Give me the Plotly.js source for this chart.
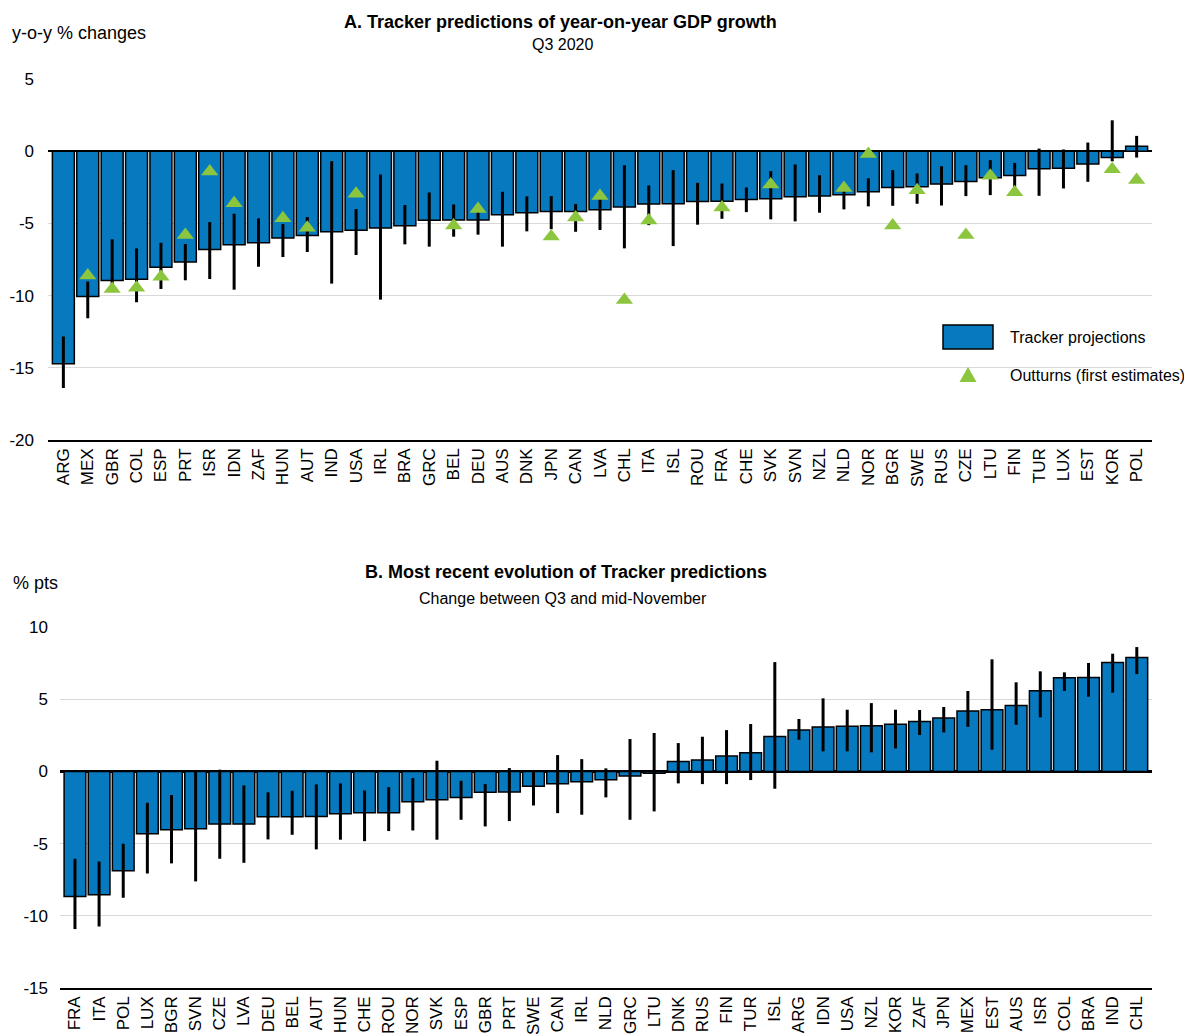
<!DOCTYPE html>
<html>
<head>
<meta charset="utf-8">
<script src="https://cdn.plot.ly/plotly-3.0.1.min.js"></script>
<style>html,body{margin:0;padding:0;background:#fff;}#chart{width:1184px;height:1035px;}</style>
</head>
<body>
<div id="chart"></div>
<script>
// Panel A: Tracker predictions of year-on-year GDP growth, Q3 2020
const countriesA = ["ARG","MEX","GBR","COL","ESP","PRT","ISR","IDN","ZAF","HUN","AUT","IND","USA","IRL","BRA","GRC","BEL","DEU","AUS","DNK","JPN","CAN","LVA","CHL","ITA","ISL","ROU","FRA","CHE","SVK","SVN","NZL","NLD","NOR","BGR","SWE","RUS","CZE","LTU","FIN","TUR","LUX","EST","KOR","POL"];
const trackerA = [-14.72,-10.07,-8.96,-8.87,-8.04,-7.67,-6.8,-6.47,-6.34,-6.01,-5.83,-5.58,-5.48,-5.32,-5.16,-4.79,-4.77,-4.77,-4.4,-4.26,-4.17,-4.17,-4.06,-3.87,-3.66,-3.64,-3.48,-3.46,-3.34,-3.29,-3.16,-3.11,-3.02,-2.81,-2.51,-2.47,-2.28,-2.10,-1.84,-1.68,-1.22,-1.18,-0.88,-0.44,0.35];
const lowA = [-16.4,-11.57,-9.4,-10.46,-9.54,-8.94,-8.85,-9.59,-8.0,-7.33,-6.98,-9.17,-7.19,-10.28,-6.45,-6.61,-5.92,-5.78,-6.61,-5.55,-5.4,-5.58,-5.46,-6.73,-5.12,-6.57,-5.09,-4.68,-4.22,-4.72,-4.86,-4.26,-4.03,-3.82,-3.78,-3.64,-3.76,-3.11,-3.04,-2.5,-3.09,-2.58,-2.12,-0.7,-0.44];
const highA = [-12.83,-9.03,-6.1,-6.73,-6.34,-6.43,-4.91,-4.33,-4.65,-5.05,-4.56,-0.69,-4.01,-1.61,-3.73,-2.86,-3.69,-3.71,-2.81,-3.13,-3.11,-3.66,-2.81,-0.97,-2.37,-1.31,-2.19,-2.24,-2.51,-1.38,-0.92,-1.66,-2.28,-1.87,-1.31,-1.54,-1.04,-0.97,-0.62,-0.81,0.18,0.12,0.6,2.14,1.06];
const outturnA = [null,-8.6,-9.55,-9.45,-8.7,-5.8,-1.4,-3.6,null,-4.65,-5.3,null,-2.95,null,null,null,-5.15,-4.0,null,null,-5.9,-4.6,-3.1,-10.3,-4.8,null,null,-3.9,null,-2.3,null,null,-2.55,-0.2,-5.15,-2.7,null,-5.8,-1.7,-2.85,null,null,null,-1.25,-2.0];
const yTickValsA = [-20, -15, -10, -5, 0, 5];
const yTickTextA = ["-20", "-15", "-10", "-5", "0", "5"];

// Panel B: Most recent evolution of Tracker predictions, change between Q3 and mid-November
const countriesB = ["FRA","ITA","POL","LUX","BGR","SVN","CZE","LVA","DEU","BEL","AUT","HUN","CHE","ROU","NOR","SVK","ESP","GBR","PRT","SWE","CAN","IRL","NLD","GRC","LTU","DNK","RUS","FIN","TUR","ISL","ARG","IDN","USA","NZL","KOR","ZAF","JPN","MEX","EST","AUS","ISR","COL","BRA","IND","CHL"];
const changeB = [-8.66,-8.55,-6.88,-4.32,-4.04,-3.97,-3.65,-3.65,-3.14,-3.14,-3.12,-2.93,-2.86,-2.86,-2.10,-1.96,-1.80,-1.45,-1.43,-1.02,-0.85,-0.72,-0.58,-0.32,-0.12,0.69,0.79,1.06,1.29,2.42,2.86,3.07,3.12,3.16,3.26,3.46,3.70,4.18,4.27,4.57,5.59,6.49,6.51,7.55,7.88];
const lowB = [-10.92,-10.74,-8.75,-7.07,-6.37,-7.62,-6.05,-6.33,-4.71,-4.39,-5.40,-4.73,-4.83,-4.13,-4.09,-4.73,-3.35,-3.81,-3.44,-2.36,-2.89,-3.0,-1.80,-3.35,-2.77,-0.83,-0.88,-0.88,-0.60,-1.20,2.19,1.39,1.39,1.32,1.59,2.52,2.70,3.09,1.50,3.23,3.74,5.57,5.17,5.45,6.74];
const highB = [-6.05,-6.24,-5.01,-2.17,-1.64,0.0,0.12,-0.97,-1.45,-1.34,-0.9,-0.83,-1.32,-1.09,-0.46,0.74,-0.65,-0.88,0.23,0.07,1.13,0.85,0.21,2.24,2.66,1.96,2.40,2.86,3.28,7.57,3.63,5.06,4.27,4.73,4.27,4.25,4.46,5.57,7.76,6.17,6.93,6.86,7.51,8.15,8.61];
const yTickValsB = [-15, -10, -5, 0, 5, 10];
const yTickTextB = ["-15", "-10", "-5", "0", "5", "10"];

const FONT = "Liberation Sans, Arial, Helvetica, sans-serif";
const BAR_COLOR = "#0779bf";
const TRI_COLOR = "#8cc63f";

const plusA = highA.map((h, i) => h - trackerA[i]);
const minusA = lowA.map((l, i) => trackerA[i] - l);
const plusB = highB.map((h, i) => h - changeB[i]);
const minusB = lowB.map((l, i) => changeB[i] - l);

const traces = [
  {
    type: "bar", x: countriesA, y: trackerA, xaxis: "x", yaxis: "y",
    name: "Tracker projections",
    marker: {color: BAR_COLOR, line: {color: "#000", width: 1.5}},
    error_y: {type: "data", symmetric: false, array: plusA, arrayminus: minusA, color: "#000", thickness: 3, width: 0},
    showlegend: false
  },
  {
    type: "scatter", mode: "markers", x: countriesA, y: outturnA, xaxis: "x", yaxis: "y",
    name: "Outturns (first estimates)",
    marker: {symbol: "triangle-up", size: 15, color: TRI_COLOR},
    showlegend: false
  },
  {
    type: "bar", x: countriesB, y: changeB, xaxis: "x2", yaxis: "y2",
    name: "Change",
    marker: {color: BAR_COLOR, line: {color: "#000", width: 1.5}},
    error_y: {type: "data", symmetric: false, array: plusB, arrayminus: minusB, color: "#000", thickness: 3, width: 0},
    showlegend: false
  }
];

const PW = 1152, TOPM = 79, BOTP = 988, PH = 909;
const px = v => v / PW;
const py = v => (BOTP - v) / PH;

const axisY = {
  showgrid: true, gridcolor: "#d9d9d9", gridwidth: 1,
  zeroline: true, zerolinecolor: "#000", zerolinewidth: 2.5,
  ticks: "", tickmode: "array", tickfont: {family: FONT, size: 17, color: "#000"},
  showline: false, automargin: false, fixedrange: true
};
const axisX = {
  type: "category", tickangle: -90, ticks: "",
  tickfont: {family: FONT, size: 17, color: "#000"},
  showline: true, linecolor: "#000", linewidth: 1.5, showgrid: false,
  automargin: false, fixedrange: true
};

const layout = {
  width: 1184, height: 1035,
  margin: {l: 0, r: 32, t: TOPM, b: 1035 - BOTP},
  paper_bgcolor: "#fff", plot_bgcolor: "#fff",
  bargap: 0.1,
  showlegend: false,
  font: {family: FONT, size: 17, color: "#000"},
  xaxis: Object.assign({}, axisX, {domain: [px(48), 1], anchor: "y", range: [-0.63, 44.63]}),
  yaxis: Object.assign({}, axisY, {domain: [py(440), 1], anchor: "x", range: [-20, 5], tickvals: yTickValsA, ticktext: yTickTextA, ticklabelstandoff: 13}),
  xaxis2: Object.assign({}, axisX, {domain: [px(60), 1], anchor: "y2", range: [-0.62, 44.63]}),
  yaxis2: Object.assign({}, axisY, {domain: [0, py(627)], anchor: "x2", range: [-15, 10], tickvals: yTickValsB, ticktext: yTickTextB, ticklabelstandoff: 11}),
  annotations: [
    {text: "y-o-y % changes", xref: "paper", yref: "paper", x: px(10), y: py(33), xanchor: "left", yanchor: "middle", showarrow: false, font: {family: FONT, size: 18}},
    {text: "<b>A. Tracker predictions of year-on-year GDP growth</b>", xref: "paper", yref: "paper", x: px(560), y: py(22), xanchor: "center", yanchor: "middle", showarrow: false, font: {family: FONT, size: 18}},
    {text: "Q3 2020", xref: "paper", yref: "paper", x: px(562), y: py(45), xanchor: "center", yanchor: "middle", showarrow: false, font: {family: FONT, size: 16}},
    {text: "% pts", xref: "paper", yref: "paper", x: px(11), y: py(583), xanchor: "left", yanchor: "middle", showarrow: false, font: {family: FONT, size: 18}},
    {text: "<b>B. Most recent evolution of Tracker predictions</b>", xref: "paper", yref: "paper", x: px(566), y: py(572), xanchor: "center", yanchor: "middle", showarrow: false, font: {family: FONT, size: 18}},
    {text: "Change between Q3 and mid-November", xref: "paper", yref: "paper", x: px(563), y: py(598), xanchor: "center", yanchor: "middle", showarrow: false, font: {family: FONT, size: 16}},
    {text: "Tracker projections", xref: "paper", yref: "paper", x: px(1008), y: py(337), xanchor: "left", yanchor: "middle", showarrow: false, font: {family: FONT, size: 16}},
    {text: "Outturns (first estimates)", xref: "paper", yref: "paper", x: px(1008), y: py(376), xanchor: "left", yanchor: "middle", showarrow: false, font: {family: FONT, size: 16}}
  ],
  shapes: [
    {type: "rect", xref: "paper", yref: "paper", x0: px(943), x1: px(993), y0: py(349), y1: py(325), fillcolor: BAR_COLOR, line: {color: "#000", width: 1.5}},
    {type: "path", xref: "paper", yref: "paper",
     path: "M " + px(959.5) + " " + py(382) + " L " + px(976.5) + " " + py(382) + " L " + px(968) + " " + py(367) + " Z",
     fillcolor: TRI_COLOR, line: {width: 0}}
  ]
};

Plotly.newPlot("chart", traces, layout, {staticPlot: true, displayModeBar: false});
</script>
</body>
</html>
